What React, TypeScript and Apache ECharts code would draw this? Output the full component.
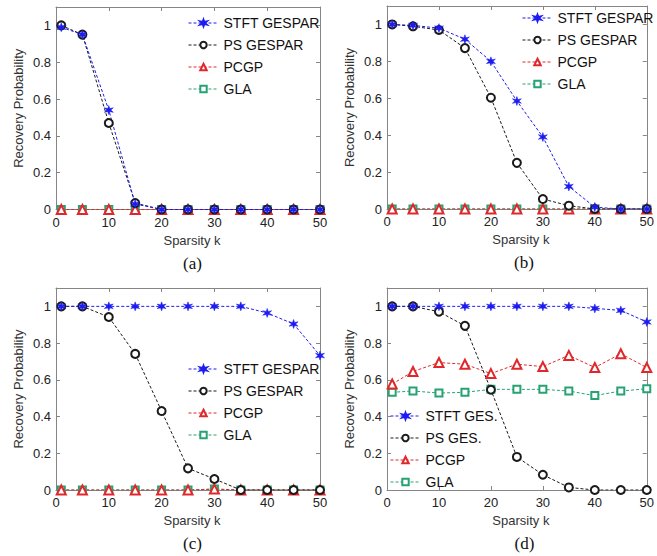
import React, { useEffect, useRef } from "react";
import * as echarts from "echarts";

// ---- data ----
const kValues = [1, 5, 10, 15, 20, 25, 30, 35, 40, 45, 50];

const aSTFT = [0.99, 0.95, 0.54, 0.03, 0, 0, 0, 0, 0, 0, 0];
const aPS = [1.0, 0.95, 0.47, 0.035, 0, 0, 0, 0, 0, 0, 0];
const aPCGP = [0, 0, 0, 0, 0, 0, 0, 0, 0, 0, 0];
const aGLA = [0, 0, 0, 0, 0, 0, 0, 0, 0, 0, 0];

const bSTFT = [1.0, 0.995, 0.98, 0.92, 0.8, 0.585, 0.39, 0.122, 0.01, 0, 0];
const bPS = [1.0, 0.99, 0.97, 0.872, 0.603, 0.25, 0.054, 0.018, 0, 0, 0];
const bPCGP = [0, 0, 0, 0, 0, 0, 0, 0, 0, 0, 0];
const bGLA = [0, 0, 0, 0, 0, 0, 0, 0, 0, 0, 0];

const cSTFT = [1, 1, 1, 1, 1, 1, 1, 1, 0.964, 0.904, 0.732];
const cPS = [1, 1, 0.942, 0.741, 0.43, 0.118, 0.06, 0, 0, 0, 0];
const cPCGP = [0, 0, 0, 0, 0, 0, 0.005, 0, 0, 0, 0];
const cGLA = [0, 0, 0, 0, 0, 0, 0.005, 0, 0, 0, 0];

const dSTFT = [1, 1, 1, 1, 1, 1, 1, 1, 0.989, 0.978, 0.915];
const dPS = [1, 1, 0.971, 0.894, 0.546, 0.18, 0.083, 0.014, 0, 0, 0];
const dPCGP = [0.577, 0.645, 0.694, 0.685, 0.634, 0.685, 0.672, 0.733, 0.667, 0.742, 0.667];
const dGLA = [0.532, 0.539, 0.528, 0.532, 0.548, 0.548, 0.548, 0.539, 0.514, 0.539, 0.551];

const namesABC = ["STFT GESPAR", "PS GESPAR", "PCGP", "GLA"];
const namesD = ["STFT GES.", "PS GES.", "PCGP", "GLA"];
const panelLabels = ["(a)", "(b)", "(c)", "(d)"];
const xTitle = "Sparsity k";
const yTitle = "Recovery Probability";

// ---- styling ----
const BLUE = "#1c1cf0";
const BLACK = "#1a1a1a";
const RED = "#e0282c";
const GREEN = "#27a273";
const AXIS = "#858585";
const FONT = "Liberation Sans";

const starSymbol = (() => {
  let d = "";
  for (let i = 0; i < 12; i++) {
    const ang = ((-90 + i * 30) * Math.PI) / 180;
    const r = i % 2 ? 4 : 10;
    const x = 10 + r * Math.cos(ang);
    const y = 10 + r * Math.sin(ang);
    d += (i ? "L" : "M") + x.toFixed(2) + " " + y.toFixed(2);
  }
  return "path://" + d + "Z";
})();

const grids = [
  { left: 56, top: 7, width: 264, height: 202.5 },
  { left: 387, top: 6, width: 264, height: 203 },
  { left: 56, top: 288, width: 264, height: 202 },
  { left: 387, top: 288, width: 265, height: 202 },
];

const legendPos = [
  { left: 188, top: 16 },
  { left: 522, top: 11 },
  { left: 188, top: 362 },
  { left: 390, top: 409 },
];

const panels = [
  { names: namesABC, data: [aSTFT, aPS, aPCGP, aGLA] },
  { names: namesABC, data: [bSTFT, bPS, bPCGP, bGLA] },
  { names: namesABC, data: [cSTFT, cPS, cPCGP, cGLA] },
  { names: namesD, data: [dSTFT, dPS, dPCGP, dGLA] },
];

const seriesStyles = [
  { color: BLUE, symbol: starSymbol, size: 9, fill: BLUE },
  { color: BLACK, symbol: "emptyCircle", size: 8, fill: null },
  { color: RED, symbol: "emptyTriangle", size: 9, fill: null },
  { color: GREEN, symbol: "emptyRect", size: 7, fill: null },
];

function buildOption() {
  const xAxis: any[] = [];
  const yAxis: any[] = [];
  const series: any[] = [];
  const legend: any[] = [];
  const graphic: any[] = [];

  grids.forEach((g, gi) => {
    const tickStyle = { show: true, inside: true, length: 4, lineStyle: { color: AXIS } };
    const lineStyle = { show: true, onZero: false, lineStyle: { color: AXIS, width: 1 } };
    xAxis.push({
      type: "value",
      gridIndex: gi,
      position: "bottom",
      min: 0,
      max: 50,
      interval: 10,
      axisLine: lineStyle,
      axisTick: tickStyle,
      splitLine: { show: false },
      axisLabel: { fontSize: 13, color: "#222", margin: 6, fontFamily: FONT },
      name: xTitle,
      nameLocation: "middle",
      nameGap: 24,
      nameTextStyle: { fontSize: 13, color: "#333", fontFamily: FONT, padding: [0, 0, 0, 8] },
    });
    xAxis.push({
      type: "value",
      gridIndex: gi,
      position: "top",
      min: 0,
      max: 50,
      interval: 10,
      axisLine: lineStyle,
      axisTick: tickStyle,
      splitLine: { show: false },
      axisLabel: { show: false },
    });
    yAxis.push({
      type: "value",
      gridIndex: gi,
      position: "left",
      min: 0,
      max: 1.1,
      interval: 0.2,
      axisLine: lineStyle,
      axisTick: tickStyle,
      splitLine: { show: false },
      axisLabel: {
        fontSize: 13,
        color: "#222",
        margin: 5,
        fontFamily: FONT,
        showMaxLabel: false,
        formatter: (v: number) => (Math.abs(v * 5 - Math.round(v * 5)) < 1e-6 ? String(Math.round(v * 10) / 10) : ""),
      },
      name: yTitle,
      nameLocation: "middle",
      nameGap: 31,
      nameTextStyle: { fontSize: 13, color: "#333", fontFamily: FONT },
    });
    yAxis.push({
      type: "value",
      gridIndex: gi,
      position: "right",
      min: 0,
      max: 1.1,
      interval: 0.2,
      axisLine: lineStyle,
      axisTick: tickStyle,
      splitLine: { show: false },
      axisLabel: { show: false },
    });

    const p = panels[gi];
    // draw order: GLA, PCGP, PS, STFT (STFT on top)
    [3, 2, 1, 0].forEach((si) => {
      const st = seriesStyles[si];
      series.push({
        type: "line",
        name: p.names[si],
        xAxisIndex: 2 * gi,
        yAxisIndex: 2 * gi,
        data: kValues.map((k, i) => [k, p.data[si][i]]),
        symbol: st.symbol,
        symbolSize: st.size,
        showAllSymbol: true,
        lineStyle: { color: st.color, width: 1, type: [3, 2] },
        itemStyle: st.fill
          ? { color: st.fill, borderColor: st.color, borderWidth: 0.5 }
          : { color: st.color, borderColor: st.color, borderWidth: 1 },
        emphasis: { disabled: true },
      });
    });

    legend.push({
      orient: "vertical",
      left: legendPos[gi].left,
      top: legendPos[gi].top,
      padding: 0,
      itemWidth: 30,
      itemHeight: 8,
      itemGap: 8,
      selectedMode: false,
      data: p.names,
      lineStyle: { width: 1 },
      textStyle: { fontSize: 14, color: "#111", fontFamily: FONT, lineHeight: 14 },
    });

    graphic.push({
      type: "text",
      left: g.left + g.width / 2 + 4 - 9,
      top: g.top + g.height + 45,
      style: {
        text: panelLabels[gi],
        font: "17px 'Liberation Serif'",
        fill: "#111",
      },
    });
  });

  return {
    animation: false,
    backgroundColor: "#ffffff",
    textStyle: { fontFamily: FONT },
    grid: grids.map((g) => ({ ...g, containLabel: false })),
    xAxis,
    yAxis,
    series,
    legend,
    graphic,
  };
}

export default function App() {
  const ref = useRef<HTMLDivElement>(null);
  useEffect(() => {
    if (!ref.current) return;
    const chart = echarts.init(ref.current, undefined, { renderer: "svg" });
    chart.setOption(buildOption() as any);
    return () => chart.dispose();
  }, []);
  return (
    <div
      ref={ref}
      style={{ position: "fixed", left: 0, top: 0, width: 657, height: 556, background: "#fff" }}
    />
  );
}
